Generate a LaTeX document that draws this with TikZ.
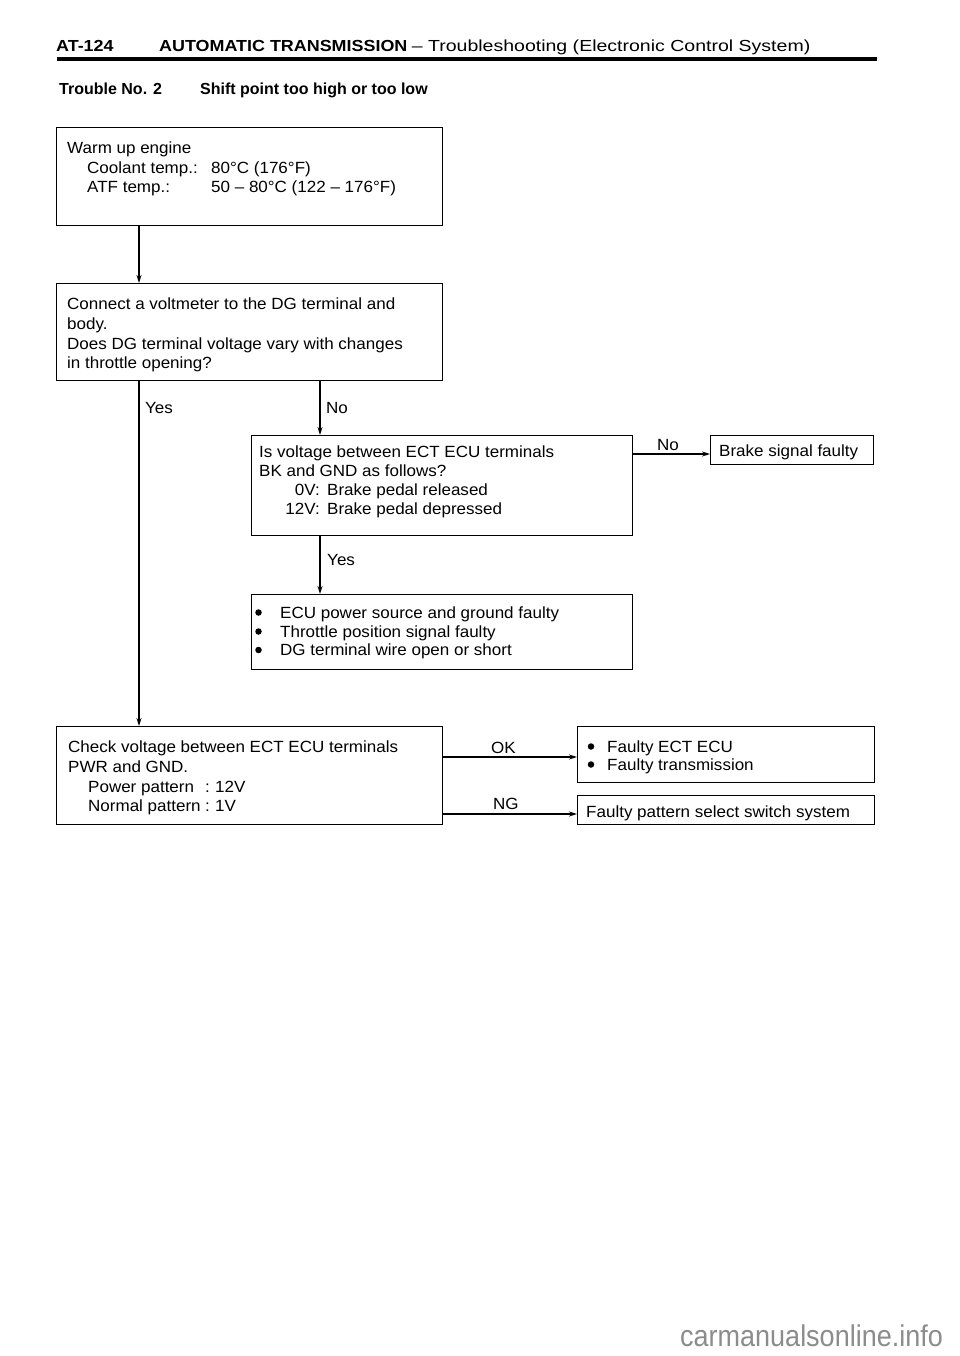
\documentclass[tikz,border=0pt]{standalone}
\usepackage{fontspec}
\setmainfont{Liberation Sans}[FakeStretch=1.05]
\newfontfamily\hdrbold{Liberation Sans Bold}[FakeStretch=1.12]
\newfontfamily\hdrreg{Liberation Sans}[FakeStretch=1.22]
\newfontfamily\trfont{Liberation Sans Bold}[FakeStretch=1.0]
\newfontfamily\wmfont{Liberation Sans}[FakeStretch=0.9]
\usetikzlibrary{arrows.meta}
\tikzset{
  box/.style={draw, line width=1.4pt, anchor=north west, inner sep=0pt},
  tx/.style={anchor=base west, inner sep=0pt, font=\fontsize{16.2}{19.7}\selectfont},
  txr/.style={anchor=base east, inner sep=0pt, font=\fontsize{16.2}{19.7}\selectfont},
  dot/.style={circle, fill, inner sep=0pt, minimum size=6.5pt},
  conn/.style={line width=1.3pt, -{Stealth[length=8pt,width=5pt]}},
  hdrb/.style={anchor=base west, inner sep=0pt, font=\hdrbold\fontsize{16}{18}\selectfont},
  hdrr/.style={anchor=base west, inner sep=0pt, font=\hdrreg\fontsize{16}{18}\selectfont},
  trb/.style={anchor=base west, inner sep=0pt, font=\trfont\fontsize{16}{19}\selectfont},
}
\begin{document}
\begin{tikzpicture}[x=1pt,y=-1pt]
\useasboundingbox (0,0) rectangle (960,1356);
\fill[white] (0,0) rectangle (960,1356);

% header
\node[hdrb] (h1) at (56,52) {AT-124};
\node[hdrb] (h2) at (159,52) {AUTOMATIC TRANSMISSION};
\node[hdrr] (h3) at (h2.base east) [anchor=base west, xshift=4pt] {– Troubleshooting (Electronic Control System)};
\draw[line width=3.5pt] (57,59) -- (877,59);
\node[trb] (tr1) at (59,95) {Trouble No. 2};
\node[trb] (tr2) at (200,95) {Shift point too high or too low};

% coordinates for connector columns / rows
\coordinate (xL) at (139,0);
\coordinate (xM) at (320,0);
\coordinate (yNO) at (0,454);
\coordinate (yOK) at (0,757);
\coordinate (yNG) at (0,814);

% boxes
\node[box, minimum width=386pt, minimum height=98pt] (b1) at (56,127) {};
\node[box, minimum width=386pt, minimum height=97pt] (b2) at (56,283) {};
\node[box, minimum width=381pt, minimum height=100pt] (b3) at (251,435) {};
\node[box, minimum width=163pt, minimum height=29pt] (bk) at (710,435) {};
\node[box, minimum width=381pt, minimum height=75pt] (b4) at (251,594) {};
\node[box, minimum width=386pt, minimum height=98pt] (b5) at (56,726) {};
\node[box, minimum width=297pt, minimum height=56pt] (b6) at (577,726) {};
\node[box, minimum width=297pt, minimum height=29pt] (b7) at (577,795) {};

% box 1 text
\node[tx] (t1a) at (67,154) {Warm up engine};
\node[tx] (t1b) at (87,174) {Coolant temp.:};
\node[tx] (t1c) at (211,174) {80°C (176°F)};
\node[tx] (t1d) at (87,193) {ATF temp.:};
\node[tx] (t1e) at (211,193) {50 – 80°C (122 – 176°F)};

% box 2 text
\node[tx] (t2a) at (67,309) {Connect a voltmeter to the DG terminal and};
\node[tx] (t2b) at (67,329) {body.};
\node[tx] (t2c) at (67,349) {Does DG terminal voltage vary with changes};
\node[tx] (t2d) at (67,368) {in throttle opening?};

% box 3 text
\node[tx] (t3a) at (259,457) {Is voltage between ECT ECU terminals};
\node[tx] (t3b) at (259,476.5) {BK and GND as follows?};
\node[txr] (t3c) at (320,495.5) {0V:};
\node[tx] (t3d) at (327,495.5) {Brake pedal released};
\node[txr] (t3e) at (320,514.5) {12V:};
\node[tx] (t3f) at (327,514.5) {Brake pedal depressed};

% brake box text
\node[tx] (tk) at (719,456.5) {Brake signal faulty};

% box 4 text
\node[dot] (u4a) at (258.5,612.5) {};
\node[tx] (t4a) at (280,618) {ECU power source and ground faulty};
\node[dot] (u4b) at (258.5,631.5) {};
\node[tx] (t4b) at (280,637) {Throttle position signal faulty};
\node[dot] (u4c) at (258.5,650) {};
\node[tx] (t4c) at (280,655.5) {DG terminal wire open or short};

% box 5 text
\node[tx] (t5a) at (68,752) {Check voltage between ECT ECU terminals};
\node[tx] (t5b) at (68,772) {PWR and GND.};
\node[tx] (t5c) at (88,792) {Power pattern};
\node[tx] (t5d) at (205,792) {:};
\node[tx] (t5e) at (215,792) {12V};
\node[tx] (t5f) at (88,811) {Normal pattern};
\node[tx] (t5g) at (205,811) {:};
\node[tx] (t5h) at (215,811) {1V};

% box 6 text
\node[dot] (u6a) at (591,746.5) {};
\node[tx] (t6a) at (607,752) {Faulty ECT ECU};
\node[dot] (u6b) at (591,764.5) {};
\node[tx] (t6b) at (607,770) {Faulty transmission};

% box 7 text
\node[tx] (t7) at (586,817) {Faulty pattern select switch system};

% connectors
\draw[conn] (b1.south -| xL) -- (b2.north -| xL);
\draw[conn] (b2.south -| xL) -- (b5.north -| xL);
\draw[conn] (b2.south -| xM) -- (b3.north -| xM);
\draw[conn] (b3.south -| xM) -- (b4.north -| xM);
\draw[conn] (b3.east |- yNO) -- (bk.west |- yNO);
\draw[conn] (b5.east |- yOK) -- (b6.west |- yOK);
\draw[conn] (b5.east |- yNG) -- (b7.west |- yNG);

% connector labels
\node[tx] (lyes1) at (145,413) {Yes};
\node[tx] (lno1) at (326,413) {No};
\node[tx] (lyes2) at (327,565) {Yes};
\node[tx] (lno2) at (657,450) {No};
\node[tx] (lok) at (491,753) {OK};
\node[tx] (lng) at (493,809) {NG};

% watermark
\node[anchor=base west, inner sep=0pt, text=black!45, font=\wmfont\fontsize{30}{32}\selectfont] (wm) at (680,1346) {carmanualsonline.info};
\end{tikzpicture}
\end{document}
